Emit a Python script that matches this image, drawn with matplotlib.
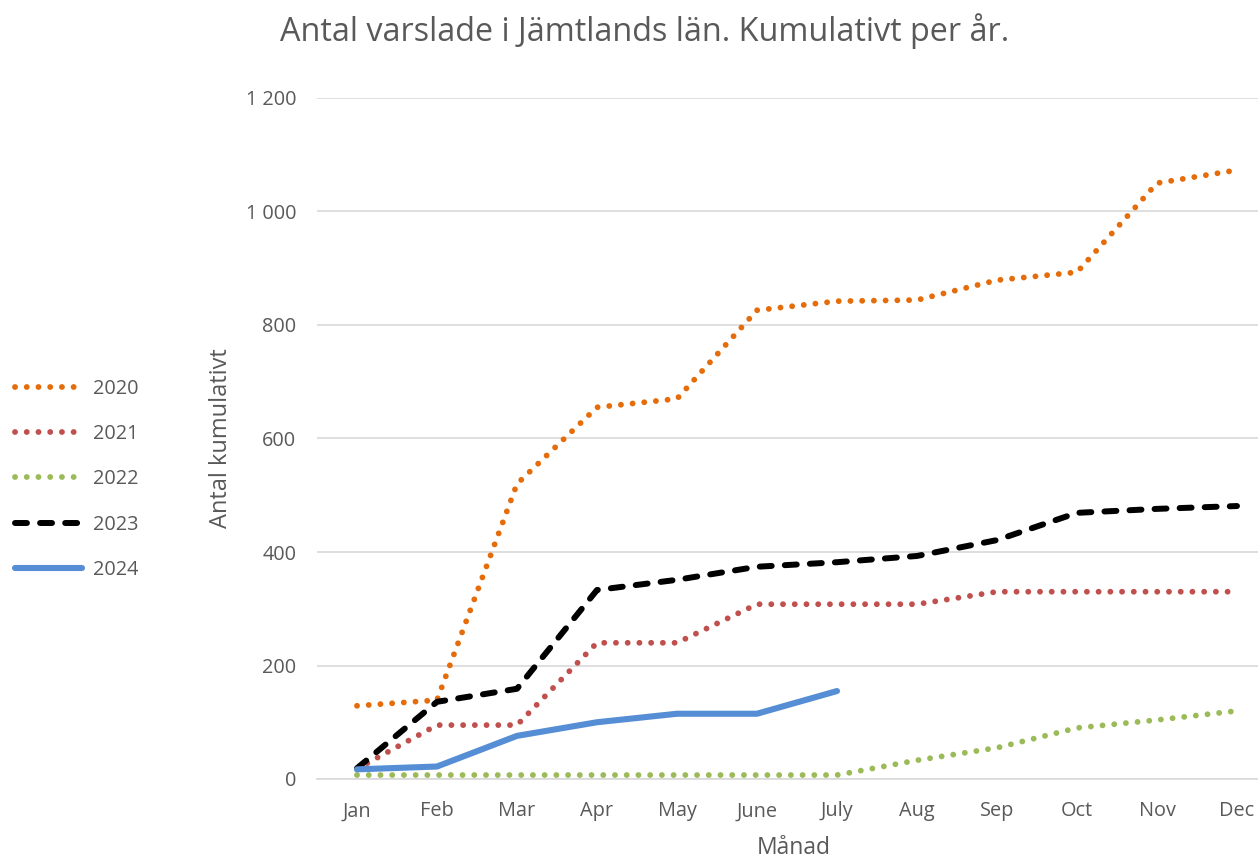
import matplotlib
matplotlib.use("Agg")
from matplotlib import pyplot as plt
from matplotlib.ticker import FuncFormatter

months = ["Jan", "Feb", "Mar", "Apr", "May", "June", "July",
          "Aug", "Sep", "Oct", "Nov", "Dec"]

y2020 = [129, 139, 520, 655, 670, 826, 842, 844, 879, 893, 1050, 1073]
y2021 = [18, 95, 95, 240, 240, 308, 308, 308, 330, 330, 330, 330]
y2022 = [7, 7, 7, 7, 7, 7, 7, 33, 55, 90, 104, 120]
y2023 = [19, 136, 159, 333, 351, 374, 382, 393, 421, 469, 476, 481]
y2024 = [17, 22, 76, 100, 115, 115, 155]

plt.rcParams["font.family"] = ["Open Sans", "DejaVu Sans"]
text_color = "#595959"

fig = plt.figure(figsize=(12.58, 8.58), dpi=100)
# plot area runs a little past the right edge, as in the original
ax = fig.add_axes([317 / 1258, 79 / 858, 960 / 1258, 681 / 858])

x = list(range(len(months)))
dot = (0, (0.01, 2.0))
ax.plot(x, y2020, color="#E46C0A", lw=4.2, ls=dot, dash_capstyle="round", label="2020")
ax.plot(x, y2021, color="#C0504D", lw=4.2, ls=dot, dash_capstyle="round", label="2021")
ax.plot(x, y2022, color="#9BBB59", lw=4.2, ls=dot, dash_capstyle="round", label="2022")
ax.plot(x, y2023, color="black", lw=4.3, ls=(0, (2.0, 2.2)), dash_capstyle="round", label="2023")
ax.plot(x[:len(y2024)], y2024, color="#558ED5", lw=4.4, solid_capstyle="round", label="2024")

ax.set_xlim(-0.5, 11.5)
ax.set_ylim(0, 1200)
ax.set_yticks(range(0, 1201, 200))
ax.yaxis.set_major_formatter(FuncFormatter(lambda v, p: f"{int(v):,}".replace(",", " ")))
ax.set_xticks(x)
ax.set_xticklabels(months)
ax.grid(axis="y", color="#D9D9D9", lw=1.2)
ax.set_axisbelow(True)
for s in ["top", "right", "left"]:
    ax.spines[s].set_visible(False)
ax.spines["bottom"].set_color("#D9D9D9")
ax.spines["bottom"].set_linewidth(1.2)
ax.tick_params(length=0, labelsize=14.3, colors=text_color)
ax.tick_params(axis="y", pad=15)
ax.tick_params(axis="x", pad=16)

ax.set_xlabel("Månad", fontsize=16.5, color=text_color, va="center")
ax.xaxis.set_label_coords(0.497, -0.101)
ax.set_ylabel("Antal kumulativt", fontsize=17, color=text_color, va="center")
ax.yaxis.set_label_coords(-0.1, 0.5)

fig.text(645 / 1258, 1 - 31 / 858, "Antal varslade i Jämtlands län. Kumulativt per år.",
         ha="center", va="center", fontsize=23.3, color=text_color)

handles, labels = ax.get_legend_handles_labels()
leg = fig.legend(handles, labels, loc="upper left", bbox_to_anchor=(15 / 1258, 1 - 379 / 858),
                 frameon=False, borderpad=0, borderaxespad=0, handlelength=3.35,
                 handletextpad=0.6, labelspacing=1.27, fontsize=14.3)
for t in leg.get_texts():
    t.set_color(text_color)

fig.savefig("out.png", dpi=100)
